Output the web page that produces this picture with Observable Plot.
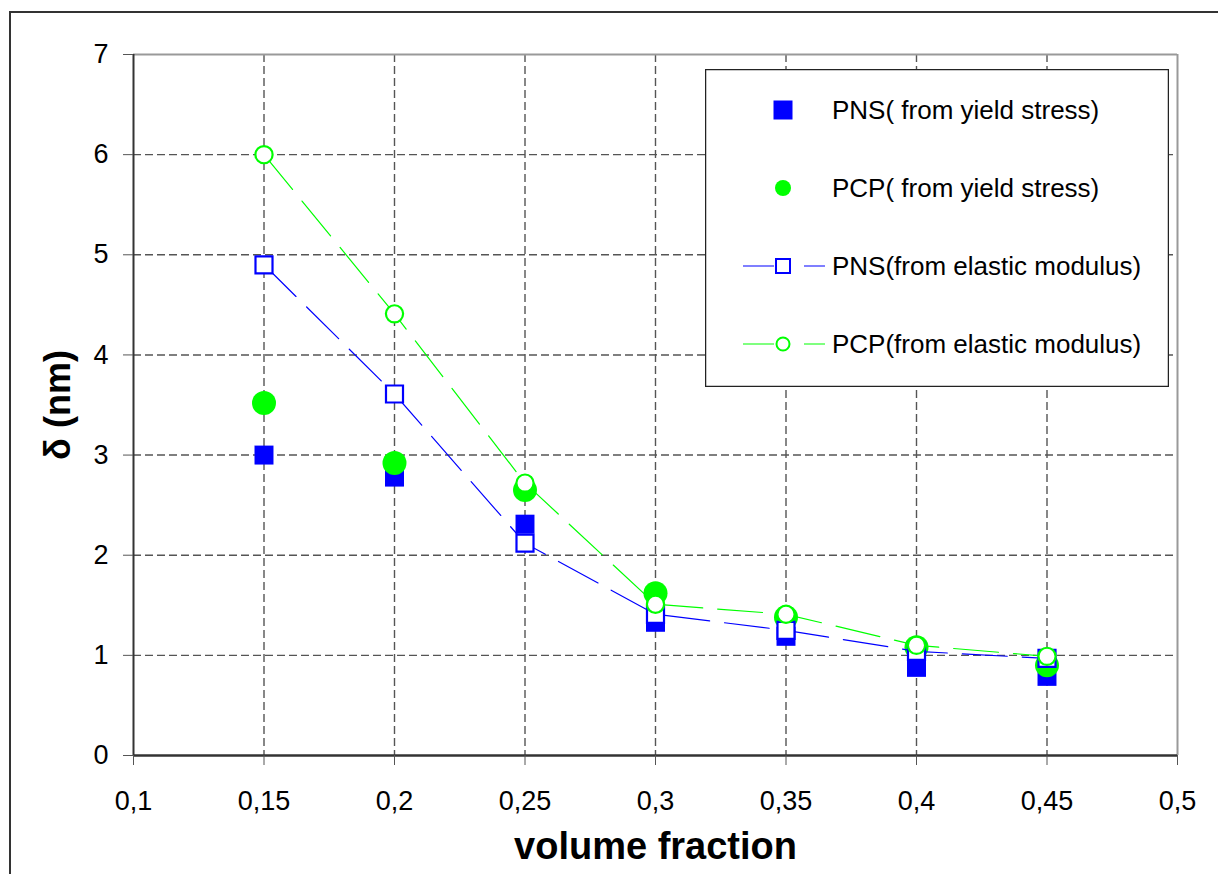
<!DOCTYPE html>
<html>
<head>
<meta charset="utf-8">
<script src="https://cdn.jsdelivr.net/npm/d3@7"></script>
<script src="https://cdn.jsdelivr.net/npm/@observablehq/plot@0.6"></script>
<style>
  html, body { margin: 0; padding: 0; background: #fff; }
  #wrap { position: relative; width: 1218px; height: 874px; overflow: hidden; font-family: "Liberation Sans", Arial, sans-serif; }
  #border { position: absolute; left: 9px; top: 11px; width: 1400px; height: 1000px; border-left: 2px solid #333; border-top: 2px solid #333; }
  #chart { position: absolute; left: 0; top: 0; }
  #legend { position: absolute; left: 705px; top: 69px; }
</style>
</head>
<body>
<div id="wrap">
  <div id="border"></div>
  <div id="chart"></div>
  <div id="legend"></div>
</div>
<script>
// ---- data ----
const volumeFraction = [0.15, 0.2, 0.25, 0.3, 0.35, 0.4, 0.45];
const pnsYield   = [3.0, 2.78, 2.31, 1.33, 1.19, 0.88, 0.79];
const pcpYield   = [3.52, 2.92, 2.65, 1.62, 1.38, 1.08, 0.9];
const pnsElastic = [4.9, 3.61, 2.12, 1.41, 1.25, 1.04, 0.97];
const pcpElastic = [6.0, 4.41, 2.72, 1.51, 1.41, 1.10, 0.99];
const xTicks = [0.1, 0.15, 0.2, 0.25, 0.3, 0.35, 0.4, 0.45, 0.5];
const yTicks = [0, 1, 2, 3, 4, 5, 6, 7];
const seriesNames = ["PNS( from yield stress)", "PCP( from yield stress)", "PNS(from elastic modulus)", "PCP(from elastic modulus)"];
const xTitle = "volume fraction";
const yTitle = "δ (nm)";

const BLUE = "#0000ff", GREEN = "#00ff00";
const toRows = vals => volumeFraction.map((x, i) => ({x, y: vals[i]}));
const fmt = d => String(d).replace(".", ",");
const xDomain = [xTicks[0], xTicks[xTicks.length - 1]];
const yDomain = [yTicks[0], yTicks[yTicks.length - 1]];
const innerX = xTicks.slice(1, -1);
const innerY = yTicks.slice(1, -1);
const dash = "45,15";

const chart = Plot.plot({
  width: 1218,
  height: 874,
  marginLeft: 133,
  marginRight: 41,
  marginTop: 54,
  marginBottom: 119,
  style: {fontFamily: "'Liberation Sans', Arial, sans-serif", fontSize: "27px", color: "#000", background: "transparent"},
  x: {domain: xDomain},
  y: {domain: yDomain},
  marks: [
    Plot.gridX(innerX, {stroke: "#555", strokeOpacity: 1, strokeWidth: 1.4, strokeDasharray: "8,4"}),
    Plot.gridY(innerY, {stroke: "#555", strokeOpacity: 1, strokeWidth: 1.4, strokeDasharray: "8,4"}),
    Plot.ruleY([yDomain[1]], {stroke: "#999", strokeWidth: 2}),
    Plot.ruleX([xDomain[1]], {stroke: "#999", strokeWidth: 2}),
    Plot.ruleX([xDomain[0]], {stroke: "#333", strokeWidth: 2}),
    Plot.ruleY([yDomain[0]], {stroke: "#333", strokeWidth: 2.5}),
    Plot.axisX({ticks: xTicks, tickFormat: fmt, tickSize: 10, tickPadding: 25, label: null, stroke: "#555", fontSize: 27}),
    Plot.axisY({ticks: yTicks, tickFormat: d => String(d), tickSize: 10, tickPadding: 15, label: null, stroke: "#555", fontSize: 27}),
    // series 1: PNS yield (filled squares)
    Plot.dot(toRows(pnsYield), {x: "x", y: "y", symbol: "square", r: 10.7, fill: BLUE, stroke: "none"}),
    // series 2: PCP yield (filled circles)
    Plot.dot(toRows(pcpYield), {x: "x", y: "y", symbol: "circle", r: 12, fill: GREEN, stroke: "none"}),
    // series 3: PNS elastic (line + open squares)
    Plot.line(toRows(pnsElastic), {x: "x", y: "y", stroke: BLUE, strokeWidth: 1.2, strokeDasharray: dash}),
    Plot.dot(toRows(pnsElastic), {x: "x", y: "y", symbol: "square", r: 9.6, fill: "#fff", stroke: BLUE, strokeWidth: 2.2}),
    // series 4: PCP elastic (line + open circles)
    Plot.line(toRows(pcpElastic), {x: "x", y: "y", stroke: GREEN, strokeWidth: 1.2, strokeDasharray: dash}),
    Plot.dot(toRows(pcpElastic), {x: "x", y: "y", symbol: "circle", r: 8.6, fill: "#fff", stroke: GREEN, strokeWidth: 2.2}),
    // axis titles
    Plot.text([yTitle], {frameAnchor: "left", textAnchor: "middle", lineAnchor: "middle", text: d => d, rotate: -90, dx: -75, fontSize: 36, fontWeight: "bold", fill: "#000"}),
    Plot.text([xTitle], {frameAnchor: "bottom", textAnchor: "middle", lineAnchor: "middle", text: d => d, dy: 91, fontSize: 38, fontWeight: "bold", fill: "#000"})
  ]
});
document.getElementById("chart").appendChild(chart);

// ---- legend ----
const lw = 464, lh = 318;
const svg = d3.select("#legend").append("svg").attr("width", lw).attr("height", lh)
  .style("font-family", "'Liberation Sans', Arial, sans-serif");
svg.append("rect").attr("x", 0.5).attr("y", 0.5).attr("width", lw - 1).attr("height", lh - 1)
  .attr("fill", "#fff").attr("stroke", "#222").attr("stroke-width", 1.5);
const rowsY = [41, 119, 197, 275];
const mx = 78;
const kinds = [
  {color: BLUE, shape: "square", filled: true, line: false},
  {color: GREEN, shape: "circle", filled: true, line: false},
  {color: BLUE, shape: "square", filled: false, line: true},
  {color: GREEN, shape: "circle", filled: false, line: true}
];
seriesNames.forEach((name, i) => {
  const k = kinds[i], y = rowsY[i];
  const g = svg.append("g");
  if (k.line) {
    g.append("line").attr("x1", 38).attr("x2", 120).attr("y1", y).attr("y2", y)
      .attr("stroke", k.color).attr("stroke-width", 1.2).attr("stroke-dasharray", "31,30");
  }
  if (k.shape === "square") {
    const s = k.filled ? 19 : 14;
    g.append("rect").attr("x", mx - s / 2).attr("y", y - s / 2).attr("width", s).attr("height", s)
      .attr("fill", k.filled ? k.color : "#fff").attr("stroke", k.filled ? "none" : k.color).attr("stroke-width", 2);
  } else {
    const r = k.filled ? 8 : 6.5;
    g.append("circle").attr("cx", mx).attr("cy", y).attr("r", r)
      .attr("fill", k.filled ? k.color : "#fff").attr("stroke", k.filled ? "none" : k.color).attr("stroke-width", 2);
  }
  g.append("text").attr("x", 127).attr("y", y).attr("dy", "0.36em")
    .attr("font-size", 26).attr("fill", "#000").text(name);
});
</script>
</body>
</html>
